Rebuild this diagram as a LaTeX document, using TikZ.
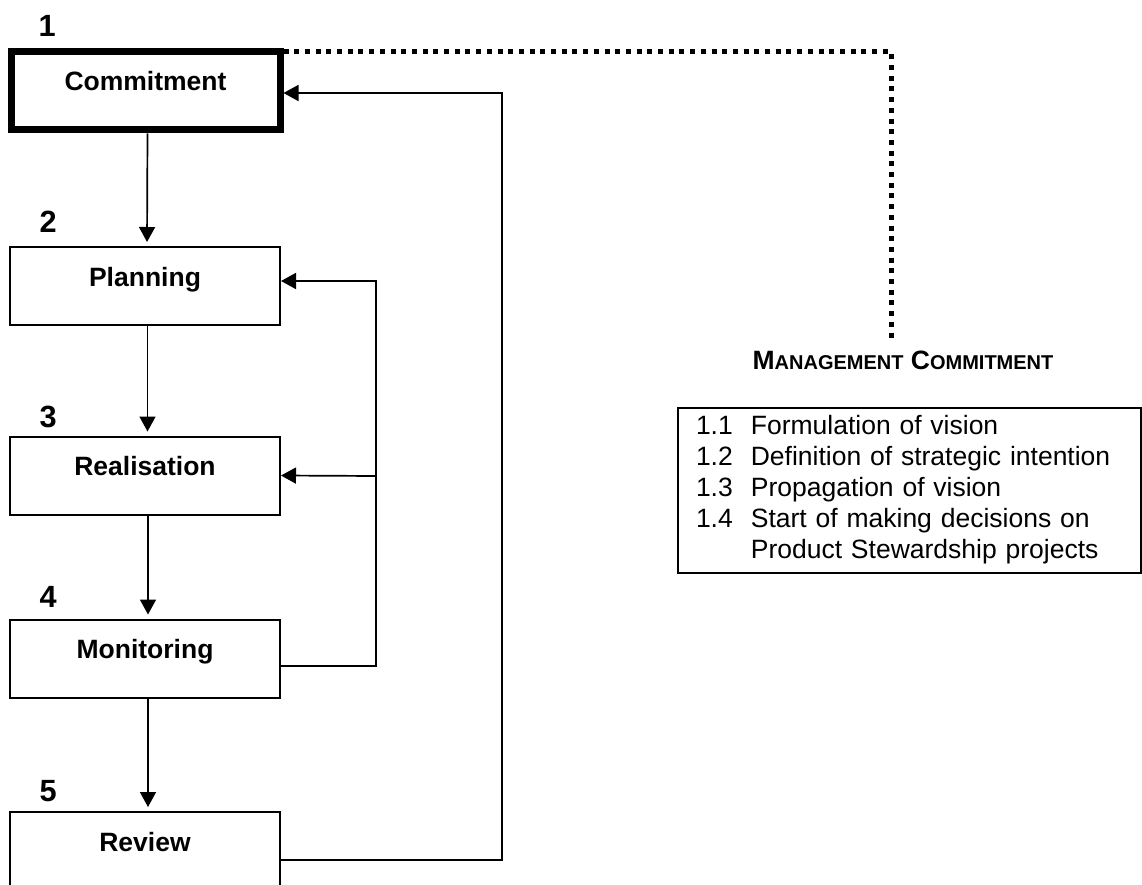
\documentclass[tikz,border=0pt]{standalone}
\usepackage{fontspec}
\setmainfont{Liberation Sans}
\usetikzlibrary{arrows.meta}

\begin{document}
\begin{tikzpicture}[x=1pt,y=-1pt]
\tikzstyle{every node}+=[inner sep=0pt]
\tikzstyle{stage}=[draw, line width=2pt, minimum width=270pt, text height=39pt, text depth=39pt, font=\fontsize{26.5}{31}\selectfont\bfseries]
\tikzstyle{keystage}=[stage, line width=7pt, minimum width=269pt]
\tikzstyle{stagenum}=[anchor=base west, font=\fontsize{30.7}{34}\selectfont\bfseries]
\tikzstyle{flow}=[line width=1.7pt, -{Triangle[length=15pt,width=16pt]}]
\tikzstyle{link}=[line width=5pt, dash pattern=on 5pt off 5.7pt]
\tikzstyle{listbox}=[draw, line width=2pt, minimum width=463pt, minimum height=165pt, inner xsep=18pt, text width=427pt, align=left, font=\fontsize{26.5}{31}\selectfont]
\useasboundingbox (0,0) rectangle (1142,885);
\node[keystage] (commitment) at (145.5,91) {Commitment};
\node[stagenum] (num1) at (38.5,37) {1};
\node[stage] (planning) at (145,286) {Planning};
\node[stagenum] (num2) at (39.5,233) {2};
\node[stage] (realisation) at (145,475.5) {Realisation};
\node[stagenum] (num3) at (39.5,427) {3};
\node[stage] (monitoring) at (145,658.5) {Monitoring};
\node[stagenum] (num4) at (39.5,607) {4};
\node[stage] (review) at (145,851) {Review};
\node[stagenum] (num5) at (39.5,801) {5};
\draw[flow, shorten >=4pt] ([xshift=2pt]commitment.south) -- ([xshift=2pt]planning.north);
\draw[flow, shorten >=4pt] ([xshift=2.5pt]planning.south) -- ([xshift=2.5pt]realisation.north);
\draw[flow, shorten >=4pt] ([xshift=3pt]realisation.south) -- ([xshift=3pt]monitoring.north);
\draw[flow, shorten >=4pt] ([xshift=3pt]monitoring.south) -- ([xshift=3pt]review.north);
\coordinate (innerbus) at (376,476);
\coordinate (outerbus) at (502,93);
\draw[flow] ([yshift=-7.5pt]monitoring.east) -| (innerbus) |- ([yshift=5pt]planning.east);
\draw[flow] (innerbus) -- (realisation.east);
\draw[flow] ([yshift=-9pt]review.east) -| (outerbus) -- ([yshift=-2pt]commitment.east);
\node (mgmt) at (903,360) {\fontsize{26.5}{31}\selectfont\bfseries M{\fontsize{20}{24}\selectfont ANAGEMENT} C{\fontsize{20}{24}\selectfont OMMITMENT}};
\coordinate (linkcorner) at (891,52);
\draw[link] (commitment.north east |- linkcorner) -- (linkcorner) -- ([yshift=12pt]linkcorner |- mgmt.north);
\node[listbox, anchor=north west] (tasks) at (677,407) {\begin{tabular}{@{}l@{\hspace{18pt}}l@{}}
1.1 & Formulation of vision\\
1.2 & Definition of strategic intention\\
1.3 & Propagation of vision\\
1.4 & Start of making decisions on\\
 & Product Stewardship projects
\end{tabular}};
\end{tikzpicture}
\end{document}
